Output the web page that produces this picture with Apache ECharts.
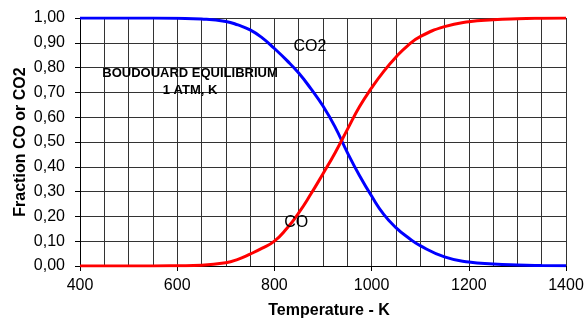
<!DOCTYPE html>
<html>
<head>
<meta charset="utf-8">
<title>Boudouard equilibrium</title>
<script src="https://cdn.jsdelivr.net/npm/echarts@6/dist/echarts.min.js"></script>
<style>
  html, body { margin: 0; padding: 0; background: #fff; }
  #chart { width: 586px; height: 318px; }
</style>
</head>
<body>
<div id="chart"></div>
<script>
// temperatures (K)
var temps = [400, 450, 500, 550, 600, 650, 700, 725, 750, 775, 800, 825, 850, 875, 900, 925, 950, 975, 1000, 1025, 1050, 1075, 1100, 1150, 1200, 1250, 1300, 1350, 1400];
// fraction CO2 (blue)
var co2 = [1.000, 1.000, 1.000, 1.000, 0.999, 0.996, 0.986, 0.972, 0.952, 0.920, 0.877, 0.830, 0.778, 0.715, 0.645, 0.560, 0.458, 0.365, 0.282, 0.208, 0.155, 0.115, 0.082, 0.037, 0.016, 0.008, 0.004, 0.002, 0.001];
// fraction CO (red)
var co = [0.000, 0.000, 0.000, 0.000, 0.001, 0.003, 0.013, 0.027, 0.048, 0.072, 0.100, 0.150, 0.214, 0.290, 0.372, 0.457, 0.550, 0.642, 0.718, 0.785, 0.842, 0.890, 0.925, 0.965, 0.985, 0.993, 0.997, 0.999, 1.000];

var font = 'Arial, "Liberation Sans", sans-serif';

function pairs(xs, ys) {
  return xs.map(function (x, i) { return [x, ys[i]]; });
}

var chart = echarts.init(document.getElementById('chart'));

var option = {
  animation: false,
  textStyle: { fontFamily: font },
  grid: { left: 80, right: 20, top: 18, bottom: 52, outerBoundsMode: 'none', containLabel: false },
  xAxis: {
    type: 'value',
    min: 400,
    max: 1400,
    interval: 200,
    name: 'Temperature - K',
    nameLocation: 'middle',
    nameGap: 37,
    nameTextStyle: { fontSize: 16, fontWeight: 'bold', color: '#000', fontFamily: font, padding: [0, 0, 0, 12] },
    axisLine: { show: true, lineStyle: { color: '#000', width: 1 } },
    axisTick: { show: true, inside: false, length: 5, lineStyle: { color: '#000' } },
    axisLabel: {
      fontSize: 16, color: '#000', margin: 12, fontFamily: font,
      formatter: function (v) { return String(v); }
    },
    splitLine: { show: true, lineStyle: { color: '#333', width: 1 } },
    minorTick: { show: false, splitNumber: 4 },
    minorSplitLine: { show: true, lineStyle: { color: '#333', width: 1 } }
  },
  yAxis: {
    type: 'value',
    min: 0,
    max: 1,
    interval: 0.1,
    name: 'Fraction CO or CO2',
    nameLocation: 'middle',
    nameGap: 51,
    nameMoveOverlap: false,
    nameTextStyle: { fontSize: 16, fontWeight: 'bold', color: '#000', fontFamily: font },
    axisLine: { show: true, lineStyle: { color: '#000', width: 1 } },
    axisTick: { show: true, inside: false, length: 5, lineStyle: { color: '#000' } },
    axisLabel: {
      fontSize: 16,
      color: '#000',
      margin: 15,
      fontFamily: font,
      formatter: function (v) { return v.toFixed(2).replace('.', ','); }
    },
    splitLine: { show: true, lineStyle: { color: '#333', width: 1 } }
  },
  graphic: [
    {
      type: 'text',
      x: 190, y: 82,
      style: {
        text: 'BOUDOUARD EQUILIBRIUM\n1 ATM, K',
        font: 'bold 13px ' + font,
        fill: '#000',
        align: 'center',
        verticalAlign: 'middle',
        lineHeight: 17
      },
      z: 100
    }
  ],
  series: [
    {
      name: 'CO2',
      type: 'line',
      data: pairs(temps, co2),
      smooth: 0.5,
      showSymbol: false,
      lineStyle: { color: '#0000ff', width: 3 },
      markPoint: {
        symbol: 'circle', symbolSize: 0,
        label: { show: true, formatter: 'CO2', fontSize: 16, color: '#000', fontFamily: font },
        data: [{ coord: [873, 0.883] }]
      },
      z: 3
    },
    {
      name: 'CO',
      type: 'line',
      data: pairs(temps, co),
      smooth: 0.5,
      showSymbol: false,
      lineStyle: { color: '#ff0000', width: 3 },
      markPoint: {
        symbol: 'circle', symbolSize: 0,
        label: { show: true, formatter: 'CO', fontSize: 16, color: '#000', fontFamily: font },
        data: [{ coord: [845, 0.174] }]
      },
      z: 4
    }
  ]
};

chart.setOption(option);
window.onresize = chart.resize;
</script>
</body>
</html>
